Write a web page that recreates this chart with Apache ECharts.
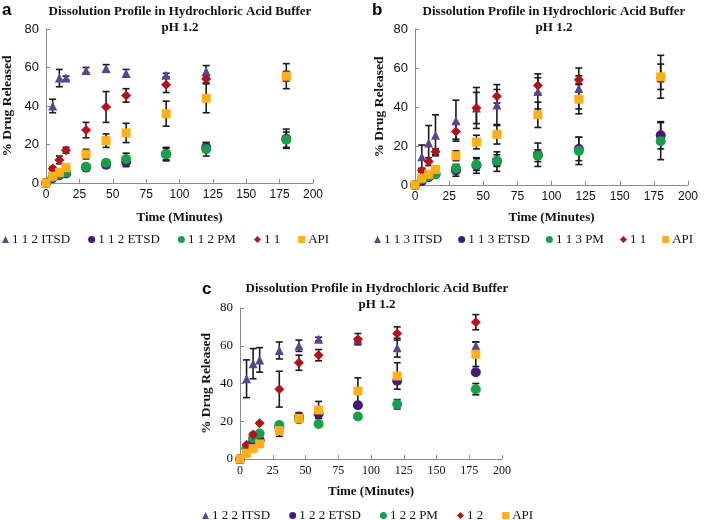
<!DOCTYPE html>
<html><head><meta charset="utf-8">
<script src="https://cdn.jsdelivr.net/npm/echarts@6/dist/echarts.min.js"></script>
<style>html,body{margin:0;padding:0;background:#fff}#c{width:709px;height:520px}</style>
</head><body><div id="c"></div>
<script>
const times = [0, 5, 10, 15, 30, 45, 60, 90, 120, 180];
const xTicks = [0, 25, 50, 75, 100, 125, 150, 175, 200];
const yTicks = [0, 20, 40, 60, 80];

// Panel a
const aITSD = [0, 40, 54.5, 54.5, 58.5, 59.5, 57, 56, 58, 56];
const aITSDErr = [0, 3.5, 4.5, 1, 1.5, 2, 2, 1, 3, 2];
const aETSD = [0, 2.5, 4, 5, 8, 9.5, 11, 15, 18.5, 23];
const aETSDErr = [0, 0.5, 1, 1, 1, 1.5, 2.5, 3, 2.5, 5];
const aPM = [0, 3, 4.5, 5.5, 8.5, 10.5, 12.5, 15, 17.5, 22.5];
const aPMErr = [0, 0.5, 0.5, 1, 1, 1.5, 3, 3.5, 3.5, 4];
const aRef = [0, 7.5, 12, 17, 27.5, 39.5, 45.5, 51, 54, 55];
const aRefErr = [0, 1, 2, 1.5, 4, 8, 3.5, 4, 2, 2];
const aAPI = [0, 3.5, 5.5, 8, 15, 22, 26, 36, 44, 55.5];
const aAPIErr = [0, 0.5, 0.5, 1, 2.5, 3.5, 5, 6.5, 7.5, 6.5];

// Panel b
const bITSD = [0, 14.5, 21.5, 25.5, 33, 39.5, 41, 48, 49.5, 55.5];
const bITSDErr = [0, 6, 9, 10.5, 10.5, 10.5, 10.5, 9, 10.5, 11];
const bETSD = [0, 2, 4, 5.5, 7.5, 10, 12, 15.5, 18.5, 25.5];
const bETSDErr = [0, 1, 1, 1.5, 3, 4, 5, 6, 6, 7];
const bPM = [0, 3, 4.5, 5.5, 8.5, 10.5, 12.5, 15, 17.5, 22.5];
const bPMErr = [0, 0.5, 0.5, 1, 1.5, 3, 3, 3, 7, 9.5];
const bRef = [0, 7.5, 12, 17, 27.5, 39.5, 45.5, 51, 54, 55];
const bRefErr = [0, 1, 2, 1.5, 4, 8, 3.5, 4, 2, 2];
const bAPI = [0, 3.5, 5.5, 8, 15, 22, 26, 36, 44, 55.5];
const bAPIErr = [0, 0.5, 0.5, 1, 2.5, 3.5, 5, 6.5, 7.5, 6.5];

// Panel c
const cITSD = [0, 42.5, 50.5, 52.5, 57.5, 60, 63.5, 63, 59, 60];
const cITSDErr = [0, 10, 8, 6.5, 4.5, 3, 1, 1, 5, 2];
const cETSD = [0, 5.5, 9, 10, 17, 22.5, 24, 28.5, 41.5, 46];
const cETSDErr = [0, 0.5, 1, 1, 1, 2, 2, 1, 1.5, 1];
const cPM = [0, 6, 11, 13.5, 18, 21, 18.5, 22.5, 29, 37];
const cPMErr = [0, 0.5, 1, 1, 1, 1, 0.5, 0.5, 2.5, 3];
const cRef = [0, 7.5, 13, 19, 37, 51, 55, 63.5, 66.5, 72.5];
const cRefErr = [0, 0.5, 1, 0.5, 9.5, 4, 3, 3, 3.5, 4];
const cAPI = [0, 3, 5.5, 8, 15, 21.5, 26, 36, 44, 55.5];
const cAPIErr = [0, 0.5, 0.5, 1, 3, 2, 4.5, 7, 7, 6.5];

const namesA = ['1 1 2 ITSD', '1 1 2 ETSD', '1 1 2 PM', '1 1', 'API'];
const namesB = ['1 1 3 ITSD', '1 1 3 ETSD', '1 1 3 PM', '1 1', 'API'];
const namesC = ['1 2 2 ITSD', '1 2 2 ETSD', '1 2 2 PM', '1 2', 'API'];
const panelTitle = 'Dissolution Profile in Hydrochloric Acid Buffer';
const panelSub = 'pH 1.2';
const xName = 'Time (Minutes)';
const yName = '% Drug Released';

const colors = ['#5b4590', '#461a78', '#16a04a', '#b5121b', '#ffb019'];
const symbols = ['triangle', 'circle', 'circle', 'diamond', 'rect'];
const sizes = [9, 10, 10, 10, 9];

const chart = echarts.init(document.getElementById('c'));

function errSeries(idx, vals, errs) {
  return {
    type: 'custom', xAxisIndex: idx, yAxisIndex: idx, silent: true,
    data: times.map((t, i) => [t, vals[i], errs[i]]),
    renderItem: function (params, api) {
      const x = api.value(0), y = api.value(1), e = api.value(2);
      if (!e) return null;
      const top = api.coord([x, y + e]);
      const bot = api.coord([x, y - e]);
      const w = 3.5;
      const st = { stroke: '#1a1a1a', lineWidth: 1.6 };
      return { type: 'group', children: [
        { type: 'line', shape: { x1: top[0], y1: top[1], x2: bot[0], y2: bot[1] }, style: st },
        { type: 'line', shape: { x1: top[0] - w, y1: top[1], x2: top[0] + w, y2: top[1] }, style: st },
        { type: 'line', shape: { x1: bot[0] - w, y1: bot[1], x2: bot[0] + w, y2: bot[1] }, style: st }
      ]};
    }
  };
}
function ptSeries(idx, k, name, vals) {
  return {
    type: 'scatter', name: name, xAxisIndex: idx, yAxisIndex: idx,
    symbol: symbols[k], symbolSize: sizes[k],
    itemStyle: { color: colors[k], opacity: 1 },
    data: times.map((t, i) => [t, vals[i]])
  };
}
const panels = [
  [namesA, [aITSD, aETSD, aPM, aRef, aAPI], [aITSDErr, aETSDErr, aPMErr, aRefErr, aAPIErr]],
  [namesB, [bITSD, bETSD, bPM, bRef, bAPI], [bITSDErr, bETSDErr, bPMErr, bRefErr, bAPIErr]],
  [namesC, [cITSD, cETSD, cPM, cRef, cAPI], [cITSDErr, cETSDErr, cPMErr, cRefErr, cAPIErr]]
];
const series = [];
panels.forEach((p, idx) => {
  for (let k = 0; k < 5; k++) {
    series.push(errSeries(idx, p[1][k], p[2][k]));
    series.push(ptSeries(idx, k, p[0][k], p[1][k]));
  }
});

const grids = [
  { left: 45, top: 29, width: 268, height: 154 },
  { left: 415, top: 29, width: 273, height: 156 },
  { left: 240, top: 308, width: 262, height: 151 }
];
const tickFonts = ['Liberation Sans', 'Liberation Sans', 'Liberation Serif'];
const yGaps = [31, 28, 26];
const xGaps = [28, 26, 26];

const xAxes = grids.map((g, i) => ({
  gridIndex: i, type: 'value', min: 0, max: 200, interval: 25,
  name: xName, nameLocation: 'middle', nameGap: xGaps[i],
  nameTextStyle: { fontFamily: 'Liberation Serif', fontSize: 13, fontWeight: 'bold', color: '#111' },
  axisLine: { lineStyle: { color: '#8c8c8c', width: 1 } },
  axisTick: { inside: true, length: 4, lineStyle: { color: '#8c8c8c' } },
  axisLabel: { fontFamily: tickFonts[i], fontSize: 12, color: '#111', margin: 6 },
  splitLine: { show: false }
}));
const yAxes = grids.map((g, i) => ({
  gridIndex: i, type: 'value', min: 0, max: 80, interval: 20,
  name: yName, nameLocation: 'middle', nameGap: yGaps[i], nameRotate: 90,
  nameTextStyle: { fontFamily: 'Liberation Serif', fontSize: 13.5, fontWeight: 'bold', color: '#111' },
  axisLine: { show: true, lineStyle: { color: '#8c8c8c', width: 1 } },
  axisTick: { show: true, inside: true, length: 4, lineStyle: { color: '#8c8c8c' } },
  axisLabel: { fontFamily: tickFonts[i], fontSize: 13, color: '#111', margin: 7 },
  splitLine: { show: false }
}));

function legendFor(names, left, top, gap) {
  return {
    left: left, top: top, itemGap: gap, itemWidth: 7, itemHeight: 7, padding: 0,
    textStyle: { fontFamily: 'Liberation Serif', fontSize: 13, color: '#111', padding: [0, 0, 0, -2] },
    selectedMode: false,
    data: names.map((n, k) => ({ name: n, icon: symbols[k] }))
  };
}

const titleStyle = { fontFamily: 'Liberation Serif', fontWeight: 'bold', fontSize: 13, fill: '#111', textAlign: 'center' };
const graphic = [];
[[180, 5], [554, 5], [377, 282]].forEach(p => {
  graphic.push({ type: 'text', x: p[0], y: p[1], style: Object.assign({ text: panelTitle }, titleStyle) });
  graphic.push({ type: 'text', x: p[0], y: p[1] + 16, style: Object.assign({ text: panelSub }, titleStyle) });
});
[['a', 2, 2], ['b', 372, 2], ['c', 202, 281]].forEach(p => {
  graphic.push({ type: 'text', x: p[1], y: p[2], style: { text: p[0], fontFamily: 'Liberation Sans', fontWeight: 'bold', fontSize: 17, fill: '#000' } });
});

chart.setOption({
  animation: false,
  grid: grids,
  xAxis: xAxes,
  yAxis: yAxes,
  legend: [legendFor(namesA, 2, 233, 18), legendFor(namesB, 374, 233, 16), legendFor(namesC, 202, 509, 19)],
  graphic: graphic,
  series: series
});
</script></body></html>
